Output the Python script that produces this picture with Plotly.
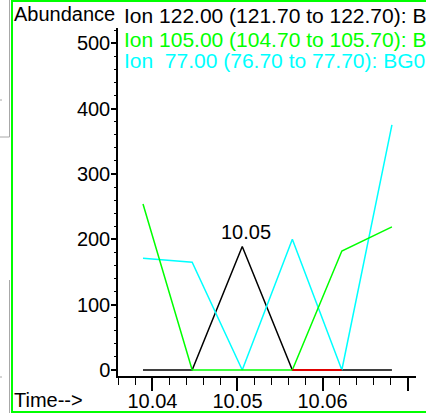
import plotly.graph_objects as go

# ---- data ----
scan_times = [10.03889, 10.04467, 10.05056, 10.05645, 10.06227, 10.06816]
ion_122 = [0, 0, 189, 0, 0, 0]
ion_105 = [254, 0, 0, 0, 182, 219]
ion_77 = [171, 165, 0, 200, 0, 375]
red_times = [10.05645, 10.06227]
red_vals = [0, 0]

x_tickvals = [10.04, 10.05, 10.06, 10.07]
x_ticktext = ["10.04", "10.05", "10.06", ""]
y_tickvals = [0, 100, 200, 300, 400, 500]
y_ticktext = ["0", "100", "200", "300", "400", "500"]

legend_texts = [
    "Ion 122.00 (121.70 to 122.70): BG0",
    "Ion 105.00 (104.70 to 105.70): BG0",
    "Ion  77.00 (76.70 to 77.70): BG0",
]
legend_colors = ["#000000", "#00ff00", "#00ffff"]

W, H = 426, 413
L, R, T, B = 118, 10, 28, 37
PW, PH = W - L - R, H - T - B
FONT = "Arial, Liberation Sans, sans-serif"


def px(x):
    return (x - L) / PW


def py(y):
    return (H - B - y) / PH


fig = go.Figure()
fig.add_trace(go.Scatter(x=scan_times, y=ion_122, mode="lines",
                         line=dict(color="#000000", width=1.5)))
fig.add_trace(go.Scatter(x=scan_times, y=ion_77, mode="lines",
                         line=dict(color="#00ffff", width=1.5)))
fig.add_trace(go.Scatter(x=scan_times, y=ion_105, mode="lines",
                         line=dict(color="#00ff00", width=1.5)))
fig.add_trace(go.Scatter(x=red_times, y=red_vals, mode="lines",
                         line=dict(color="#e00000", width=2)))

# peak label
pk = max(range(len(ion_122)), key=lambda i: ion_122[i])
annotations = [
    dict(x=scan_times[pk], y=ion_122[pk], xref="x", yref="y",
         text=f"{scan_times[pk]:.2f}", showarrow=False, xanchor="center",
         yanchor="bottom", xshift=4, yshift=2,
         font=dict(family=FONT, size=20, color="#000000")),
    dict(x=px(12), y=py(13.8), xref="paper", yref="paper", text="Abundance",
         showarrow=False, xanchor="left", yanchor="middle",
         font=dict(family=FONT, size=20, color="#000000")),
    dict(x=px(12), y=py(399.5), xref="paper", yref="paper", text="Time-->",
         showarrow=False, xanchor="left", yanchor="middle",
         font=dict(family=FONT, size=20, color="#000000")),
]
base_y = [22.3, 46.7, 67.3]
for t, c, by in zip(legend_texts, legend_colors, base_y):
    annotations.append(dict(x=px(123), y=py(by - 0.3465 * 21), xref="paper",
                            yref="paper", text=t.replace("  ", "&nbsp; "),
                            showarrow=False, xanchor="left", yanchor="middle",
                            borderpad=0,
                            font=dict(family=FONT, size=21, color=c)))

shapes = [
    # green frame
    dict(type="line", xref="paper", yref="paper", x0=px(12), x1=px(12),
         y0=py(0), y1=py(413), line=dict(color="#00ff00", width=2)),
    dict(type="line", xref="paper", yref="paper", x0=px(11), x1=px(430),
         y0=py(1), y1=py(1), line=dict(color="#00ff00", width=2)),
    dict(type="line", xref="paper", yref="paper", x0=px(11), x1=px(430),
         y0=py(412), y1=py(412), line=dict(color="#00ff00", width=2)),
    # gray window remnants at left edge
    dict(type="line", xref="paper", yref="paper", x0=px(9.5), x1=px(9.5),
         y0=py(0), y1=py(137), line=dict(color="#a8a8a8", width=1)),
    dict(type="line", xref="paper", yref="paper", x0=px(0), x1=px(9.5),
         y0=py(137), y1=py(137), line=dict(color="#a8a8a8", width=1)),
    dict(type="line", xref="paper", yref="paper", x0=px(9.5), x1=px(9.5),
         y0=py(280), y1=py(413), line=dict(color="#a8a8a8", width=1)),
    dict(type="line", xref="paper", yref="paper", x0=px(0), x1=px(2),
         y0=py(100), y1=py(100), line=dict(color="#a8a8a8", width=1)),
    dict(type="line", xref="paper", yref="paper", x0=px(0), x1=px(2),
         y0=py(377), y1=py(377), line=dict(color="#a8a8a8", width=1)),
]

fig.update_layout(
    width=W, height=H,
    margin=dict(l=L, r=R, t=T, b=B, pad=0, autoexpand=False),
    paper_bgcolor="white", plot_bgcolor="white",
    showlegend=False,
    annotations=annotations,
    shapes=shapes,
    font=dict(family=FONT, size=20, color="#000000"),
)
fig.update_xaxes(
    range=[10.03595, 10.07099], showgrid=False, zeroline=False,
    automargin=False,
    showline=True, linecolor="#000000", linewidth=1.5,
    tickmode="array", tickvals=x_tickvals, ticktext=x_ticktext,
    ticks="outside", ticklen=13, tickwidth=1.5, tickcolor="#000000",
    ticklabelstandoff=-7,
    tickfont=dict(family=FONT, size=20, color="#000000"),
    minor=dict(dtick=0.002, tick0=10.04, ticks="outside", ticklen=7,
               tickwidth=1.2, tickcolor="#000000", showgrid=False),
)
fig.update_yaxes(
    range=[-9.2, 523.4], showgrid=False, zeroline=False,
    automargin=False,
    showline=True, linecolor="#000000", linewidth=1.5,
    tickmode="array", tickvals=y_tickvals, ticktext=y_ticktext,
    ticks="outside", ticklen=5, tickwidth=1.5, tickcolor="#000000",
    ticklabelstandoff=-3,
    tickfont=dict(family=FONT, size=20, color="#000000"),
    minor=dict(dtick=20, tick0=0, ticks="outside", ticklen=2.5,
               tickwidth=1.2, tickcolor="#000000", showgrid=False),
)

fig.write_html(
    "out.html",
    config={"displayModeBar": False},
    post_script="document.body.style.margin='0px';"
                "document.body.style.overflow='hidden';",
)
